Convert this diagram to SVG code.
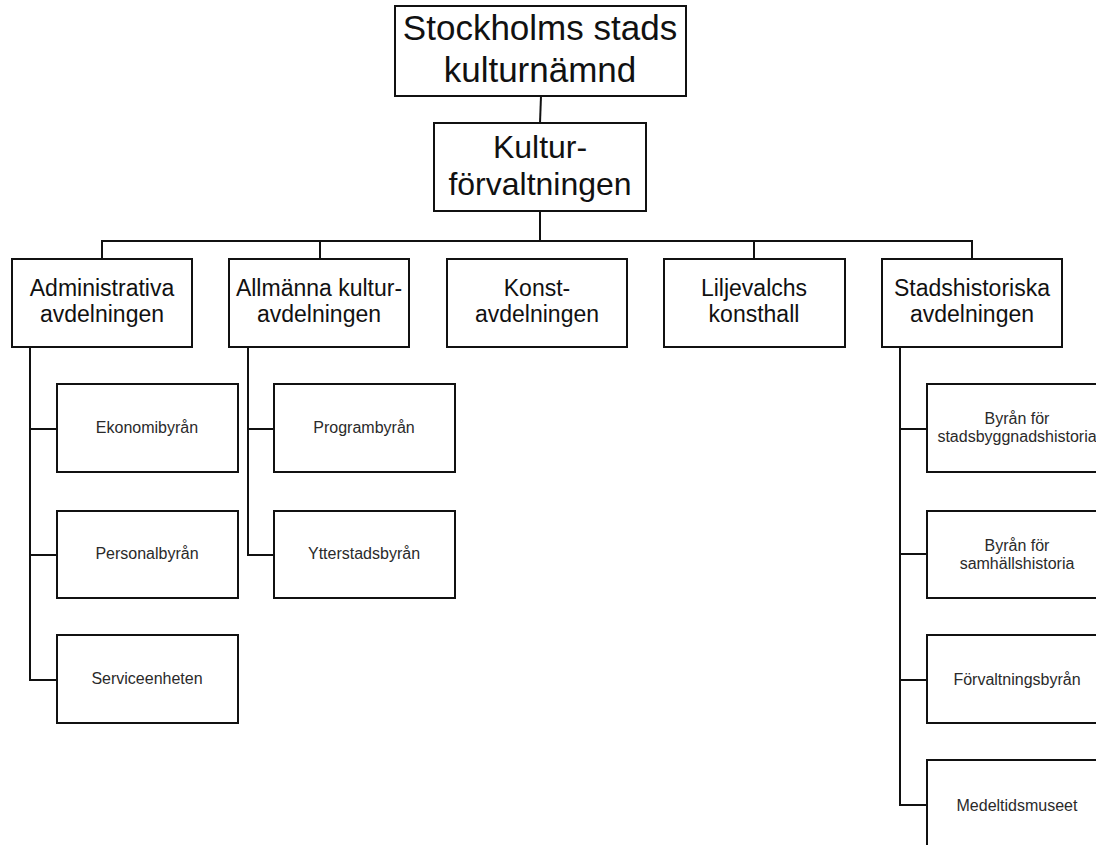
<svg xmlns="http://www.w3.org/2000/svg" width="1096" height="845" viewBox="0 0 1096 845">
  <style>
    .box { fill: #ffffff; stroke: #111111; stroke-width: 2; }
    .conn { stroke: #111111; stroke-width: 2; fill: none; }
    text { font-family: "Liberation Sans", Arial, sans-serif; text-anchor: middle; fill: #111111; }
    .t1 { font-size: 35px; }
    .t2 { font-size: 32px; }
    .t3 { font-size: 23px; }
    .t4 { font-size: 16px; fill: #2a2a2a; }
  </style>
  <rect width="1096" height="845" fill="#ffffff"/>
  <g id="connectors">
    <line class="conn" x1="541" y1="96" x2="540" y2="123"/>
    <line class="conn" x1="540" y1="211" x2="540" y2="241"/>
    <line class="conn" x1="101" y1="241" x2="973" y2="241"/>
    <line class="conn" x1="102" y1="241" x2="102" y2="259"/>
    <line class="conn" x1="320" y1="241" x2="320" y2="259"/>
    <line class="conn" x1="754" y1="241" x2="754" y2="259"/>
    <line class="conn" x1="972" y1="241" x2="972" y2="259"/>
    <polyline class="conn" points="30,347 30,680 57,680"/>
    <line class="conn" x1="30" y1="429" x2="57" y2="429"/>
    <line class="conn" x1="30" y1="555" x2="57" y2="555"/>
    <polyline class="conn" points="248,347 248,555 274,555"/>
    <line class="conn" x1="248" y1="429" x2="274" y2="429"/>
    <polyline class="conn" points="900,347 900,805 927,805"/>
    <line class="conn" x1="900" y1="429" x2="927" y2="429"/>
    <line class="conn" x1="900" y1="554" x2="927" y2="554"/>
    <line class="conn" x1="900" y1="680" x2="927" y2="680"/>
  </g>
  <g id="kulturnamnd">
    <rect class="box" x="395" y="6" width="291" height="90"/>
    <text class="t1" x="540" y="40">Stockholms stads</text>
    <text class="t1" x="540" y="82">kulturnämnd</text>
  </g>
  <g id="kulturforvaltningen">
    <rect class="box" x="434" y="123" width="212" height="88"/>
    <text class="t2" x="540" y="158">Kultur-</text>
    <text class="t2" x="540" y="195">förvaltningen</text>
  </g>
  <g id="administrativa">
    <rect class="box" x="12" y="259" width="180" height="88"/>
    <text class="t3" x="102" y="296">Administrativa</text>
    <text class="t3" x="102" y="322">avdelningen</text>
  </g>
  <g id="allmanna">
    <rect class="box" x="229" y="259" width="180" height="88"/>
    <text class="t3" x="319" y="296">Allmänna kultur-</text>
    <text class="t3" x="319" y="322">avdelningen</text>
  </g>
  <g id="konst">
    <rect class="box" x="447" y="259" width="180" height="88"/>
    <text class="t3" x="537" y="296">Konst-</text>
    <text class="t3" x="537" y="322">avdelningen</text>
  </g>
  <g id="liljevalchs">
    <rect class="box" x="664" y="259" width="181" height="88"/>
    <text class="t3" x="754" y="296">Liljevalchs</text>
    <text class="t3" x="754" y="322">konsthall</text>
  </g>
  <g id="stadshistoriska">
    <rect class="box" x="882" y="259" width="180" height="88"/>
    <text class="t3" x="972" y="296">Stadshistoriska</text>
    <text class="t3" x="972" y="322">avdelningen</text>
  </g>
  <g id="ekonomibyran">
    <rect class="box" x="57" y="384" width="181" height="88"/>
    <text class="t4" x="147" y="433">Ekonomibyrån</text>
  </g>
  <g id="personalbyran">
    <rect class="box" x="57" y="511" width="181" height="87"/>
    <text class="t4" x="147" y="559">Personalbyrån</text>
  </g>
  <g id="serviceenheten">
    <rect class="box" x="57" y="635" width="181" height="88"/>
    <text class="t4" x="147" y="684">Serviceenheten</text>
  </g>
  <g id="programbyran">
    <rect class="box" x="274" y="384" width="181" height="88"/>
    <text class="t4" x="364" y="433">Programbyrån</text>
  </g>
  <g id="ytterstadsbyran">
    <rect class="box" x="274" y="511" width="181" height="87"/>
    <text class="t4" x="364" y="559">Ytterstadsbyrån</text>
  </g>
  <g id="stadsbyggnadshistoria">
    <rect class="box" x="927" y="384" width="181" height="88"/>
    <text class="t4" x="1017" y="424">Byrån för</text>
    <text class="t4" x="1017" y="442">stadsbyggnadshistoria</text>
  </g>
  <g id="samhallshistoria">
    <rect class="box" x="927" y="511" width="181" height="87"/>
    <text class="t4" x="1017" y="551">Byrån för</text>
    <text class="t4" x="1017" y="569">samhällshistoria</text>
  </g>
  <g id="forvaltningsbyran">
    <rect class="box" x="927" y="635" width="181" height="88"/>
    <text class="t4" x="1017" y="685">Förvaltningsbyrån</text>
  </g>
  <g id="medeltidsmuseet">
    <rect class="box" x="927" y="760" width="181" height="95"/>
    <text class="t4" x="1017" y="811">Medeltidsmuseet</text>
  </g>
</svg>
